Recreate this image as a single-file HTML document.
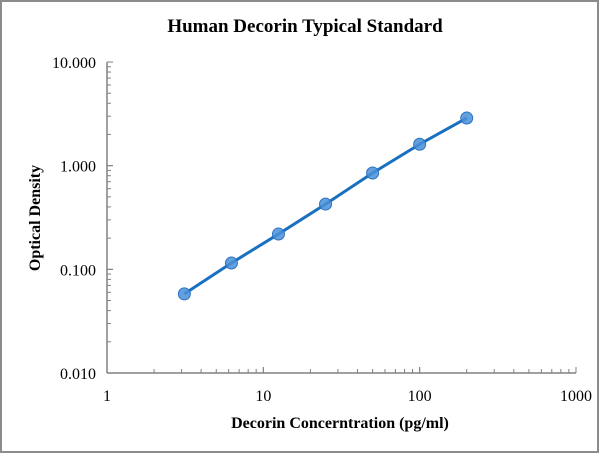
<!DOCTYPE html>
<html><head><meta charset="utf-8"><style>
html,body{margin:0;padding:0;background:#fff}
svg{display:block}
text{font-family:"Liberation Serif",serif}
</style></head><body>
<svg width="600" height="454" viewBox="0 0 600 454">
<rect x="1" y="1" width="597" height="451" fill="#fff" stroke="#8c8c8c" stroke-width="2"/>
<text x="305" y="32" text-anchor="middle" font-size="19" font-weight="bold" fill="#000">Human Decorin Typical Standard</text>
<text x="340" y="428" text-anchor="middle" font-size="16" font-weight="bold">Decorin Concerntration (pg/ml)</text>
<text transform="translate(40,218) rotate(-90)" text-anchor="middle" font-size="16" font-weight="bold">Optical Density</text>
<g id="axes"></g>
<g id="series"></g>
</svg>
<script>
const xValues=[3.125,6.25,12.5,25,50,100,200];
const yValues=[0.058,0.115,0.219,0.426,0.85,1.61,2.88];
const xTickLabels=["1","10","100","1000"];
const yTickLabels=["10.000","1.000","0.100","0.010"];
const X0=107,X1=576,Y0=373,Y1=62;
function xs(v){return X0+(Math.log10(v)-0)/3*(X1-X0);}
function ys(v){return Y0-(Math.log10(v)+2)/3*(Y0-Y1);}
const NS="http://www.w3.org/2000/svg";
const ax=document.getElementById('axes'),se=document.getElementById('series');
function mk(tag,attrs,parent){const e=document.createElementNS(NS,tag);for(const k in attrs)e.setAttribute(k,attrs[k]);parent.appendChild(e);return e;}
const col="#808080";
let a=mk('line',{x1:X0,y1:Y1,x2:X0,y2:Y0,stroke:col,'stroke-width':1.5},ax);


a=mk('line',{x1:X0,y1:Y0,x2:X1,y2:Y0,stroke:col,'stroke-width':1.5},ax);


for(let d=0;d<3;d++){for(let m=1;m<=10;m++){const v=Math.pow(10,d)*m;const len=(m===1||m===10)?6:4;
 const x=xs(v);const t=mk('line',{x1:x,y1:Y0,x2:x,y2:Y0-len,stroke:col,'stroke-width':1},ax);
 
 
 const yv=Math.pow(10,d-2)*m;const y=ys(yv);const t2=mk('line',{x1:X0,y1:y,x2:X0+len,y2:y,stroke:col,'stroke-width':1},ax);
 
 }}
xTickLabels.forEach((s,i)=>{const t=mk('text',{x:xs(Math.pow(10,i)),y:Y0+28,'text-anchor':'middle','font-size':16},ax);t.textContent=s;
 
 });
yTickLabels.forEach((s,i)=>{const t=mk('text',{x:X0-11,y:ys(Math.pow(10,1-i))+6,'text-anchor':'end','font-size':16},ax);t.textContent=s;
 
 });
const pts=xValues.map((v,i)=>xs(v)+','+ys(yValues[i])).join(' ');
const pl=mk('polyline',{points:pts,fill:'none',stroke:'#1a70c0','stroke-width':3,'stroke-linejoin':'round'},se);


xValues.forEach((v,i)=>{const c=mk('circle',{cx:xs(v),cy:ys(yValues[i]),r:6,fill:'#4a8fd8','fill-opacity':0.85,stroke:'#2a72c0','stroke-width':1},se);
 
 });
</script>
</body></html>
